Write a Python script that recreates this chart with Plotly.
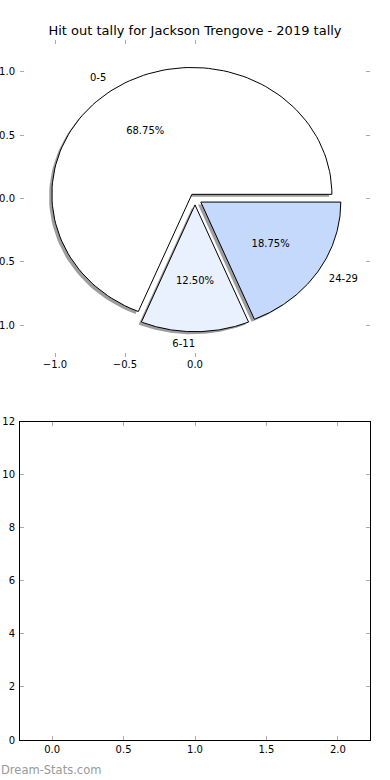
import numpy as np
import plotly.graph_objects as go

labels = ["0-5", "6-11", "24-29"]
counts = [11, 2, 3]
colors = ["#ffffff", "#e9f0fe", "#c5d9fd"]
explode = [0.04, 0.05, 0.05]

title = "Hit out tally for Jackson Trengove - 2019 tally"
pie_xticks = [-1.0, -0.5, 0.0]
pie_yticks = [-1.0, -0.5, 0.0, 0.5, 1.0]
bottom_xticks = [0.0, 0.5, 1.0, 1.5, 2.0]
bottom_yticks = [0, 2, 4, 6, 8, 10, 12]

FONT = "DejaVu Sans"
fig = go.Figure()

total = sum(counts)
fracs = [c / total for c in counts]
starts = np.concatenate([[0], np.cumsum(fracs)[:-1]]) * 360
ends = np.cumsum(fracs) * 360


def wedge(t1, t2, cx, cy, r=1.0):
    th = np.radians(np.linspace(t1, t2, 120))
    xs = np.concatenate([[cx], cx + r * np.cos(th), [cx]])
    ys = np.concatenate([[cy], cy + r * np.sin(th), [cy]])
    return xs, ys


# shadows
for i in range(len(counts)):
    mid = np.radians((starts[i] + ends[i]) / 2)
    cx, cy = explode[i] * np.cos(mid), explode[i] * np.sin(mid)
    xs, ys = wedge(starts[i], ends[i], cx - 0.02, cy - 0.02)
    fig.add_trace(go.Scatter(x=xs, y=ys, fill="toself", mode="lines",
                             line=dict(color="rgba(0,0,0,0)", width=0),
                             fillcolor="rgba(60,60,60,0.5)", hoverinfo="skip",
                             showlegend=False, xaxis="x", yaxis="y"))

for i in range(len(counts)):
    mid = np.radians((starts[i] + ends[i]) / 2)
    cx, cy = explode[i] * np.cos(mid), explode[i] * np.sin(mid)
    xs, ys = wedge(starts[i], ends[i], cx, cy)
    fig.add_trace(go.Scatter(x=xs, y=ys, fill="toself", mode="lines",
                             line=dict(color="black", width=1),
                             fillcolor=colors[i], hoverinfo="skip",
                             showlegend=False, xaxis="x", yaxis="y"))
    # labels
    lx = cx + 1.1 * np.cos(mid)
    ly = cy + 1.1 * np.sin(mid)
    pos = "middle left" if np.cos(mid) < 0 else "middle right"
    fig.add_trace(go.Scatter(x=[lx], y=[ly], mode="text", text=[labels[i]],
                             textposition=pos,
                             textfont=dict(family=FONT, size=10, color="black"),
                             hoverinfo="skip", showlegend=False, xaxis="x", yaxis="y"))
    px = cx + 0.6 * np.cos(mid)
    py = cy + 0.6 * np.sin(mid)
    fig.add_trace(go.Scatter(x=[px], y=[py], mode="text", text=[f"{fracs[i]*100:.2f}%"],
                             textposition="middle center",
                             textfont=dict(family=FONT, size=10, color="black"),
                             hoverinfo="skip", showlegend=False, xaxis="x", yaxis="y"))

# empty bottom axes
fig.add_trace(go.Scatter(x=[], y=[], mode="markers", showlegend=False, xaxis="x2", yaxis="y2"))

tick_common = dict(ticks="inside", ticklen=4, tickcolor="#aaaaaa", showgrid=False,
                   zeroline=False, automargin=False,
                   tickfont=dict(family=FONT, size=10, color="black"))

fig.update_layout(
    width=390, height=780,
    margin=dict(l=20, r=20, t=40, b=40, autoexpand=False),
    paper_bgcolor="white", plot_bgcolor="white",
    title=dict(text=title, x=0.5, xanchor="center", y=1 - 30 / 780, yanchor="middle",
               font=dict(family=FONT, size=13, color="black")),
    xaxis=dict(domain=[0, 1], range=[-1.25, 1.25], tickvals=pie_xticks,
               ticktext=[f"{v:.1f}".replace("-", "\u2212") for v in pie_xticks],
               showline=False, mirror="ticks", anchor="y", **tick_common),
    yaxis=dict(domain=[0.547, 1.0], range=[-1.25, 1.25], tickvals=pie_yticks,
               ticktext=[f"{v:.1f}".replace("-", "\u2212") for v in pie_yticks],
               showline=False, mirror="ticks", anchor="x", ticklabelstandoff=4,
               **tick_common),
    xaxis2=dict(domain=[0, 1], range=[-0.225, 2.225], tickvals=bottom_xticks,
                ticktext=[f"{v:.1f}" for v in bottom_xticks],
                showline=True, linecolor="black", linewidth=1, mirror="allticks",
                anchor="y2", **tick_common),
    yaxis2=dict(domain=[0, 0.4547], range=[0, 12], tickvals=bottom_yticks,
                showline=True, linecolor="black", linewidth=1, mirror="allticks",
                anchor="x2", ticklabelstandoff=2, **tick_common),
    annotations=[dict(text="Dream-Stats.com", x=0, xref="paper", xanchor="left",
                      xshift=-21, y=-0.043, yref="paper", yanchor="middle",
                      showarrow=False, font=dict(family=FONT, size=11.5, color="#999999"))],
)

fig.write_html("out.html", config={"displayModeBar": False},
               post_script="document.body.style.margin='0';")
